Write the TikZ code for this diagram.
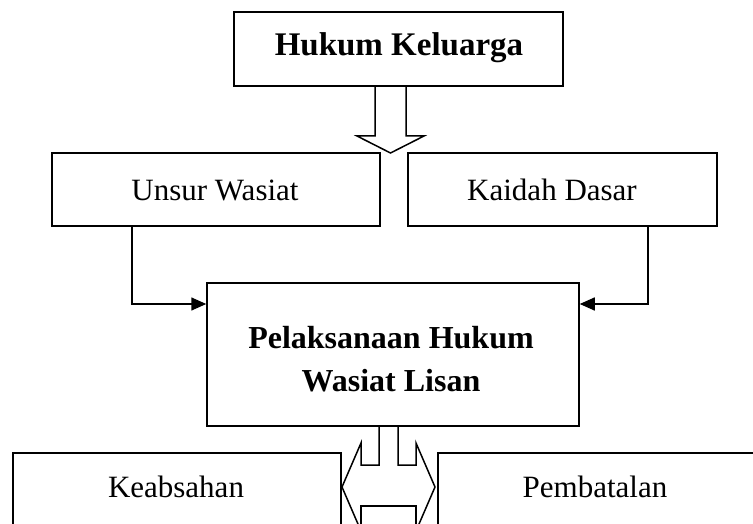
\documentclass[tikz,border=0pt]{standalone}
\usepackage{fontspec}
\setmainfont{Liberation Serif}
\usetikzlibrary{arrows.meta}
\begin{document}
\begin{tikzpicture}[x=1pt,y=-1pt, line width=1.5pt,
  box/.style={draw, fill=white, rectangle, inner sep=0pt},
  lbl/.style={inner sep=0pt, font=\fontsize{31}{43}\selectfont, align=center},
  conn/.style={-{Triangle[length=15pt,width=13pt]}},
  blockarrow/.style={draw, fill=white, line join=miter}]
\useasboundingbox (0,0) rectangle (753,524);
\clip (0,0) rectangle (753,524);
% block arrow from top box down
\draw[blockarrow] (375,86) -- (375,136) -- (357,136) -- (390.5,153) -- (424,136) -- (406,136) -- (406,86);
% bottom double arrow
\draw[blockarrow] (379,427) -- (379,465) -- (361,465) -- (361,443) -- (342,487) -- (361,531)
   -- (361,540) -- (416,540) -- (416,531) -- (435,487) -- (416,443) -- (416,465) -- (398,465) -- (398,427);
\draw (361,531) -- (361,506) -- (416,506) -- (416,531);
% boxes
\node[box, minimum width=329pt, minimum height=74pt] (hk) at (398.5,49) {};
\node[box, minimum width=328pt, minimum height=73pt] (uw) at (216,189.5) {};
\node[box, minimum width=309pt, minimum height=73pt] (kd) at (562.5,189.5) {};
\node[box, minimum width=372pt, minimum height=143pt] (pl) at (393,354.5) {};
\node[box, minimum width=328pt, minimum height=110pt, anchor=north west] (kb) at (12,452) {};
\node[box, minimum width=330pt, minimum height=110pt, anchor=north west] (pb) at (437,452) {};
% texts
\node[lbl, font=\fontsize{33}{43}\selectfont\bfseries] (hkt) at (399,48) {Hukum Keluarga};
\node[lbl] (uwt) at (215,190) {Unsur Wasiat};
\node[lbl] (kdt) at (552,190) {Kaidah Dasar};
\node[lbl, font=\fontsize{32}{43}\selectfont\bfseries] (plt) at (391,359) {Pelaksanaan Hukum\\Wasiat Lisan};
\node[lbl] (kbt) at (176,487) {Keabsahan};
\node[lbl] (pbt) at (595,487) {Pembatalan};
% connectors
\coordinate (cl) at (132,0);
\coordinate (cr) at (648,0);
\coordinate (cy) at (0,304);
\draw[conn] (uw.south -| cl) |- (pl.west |- cy);
\draw[conn] (kd.south -| cr) |- (pl.east |- cy);
\end{tikzpicture}
\end{document}
